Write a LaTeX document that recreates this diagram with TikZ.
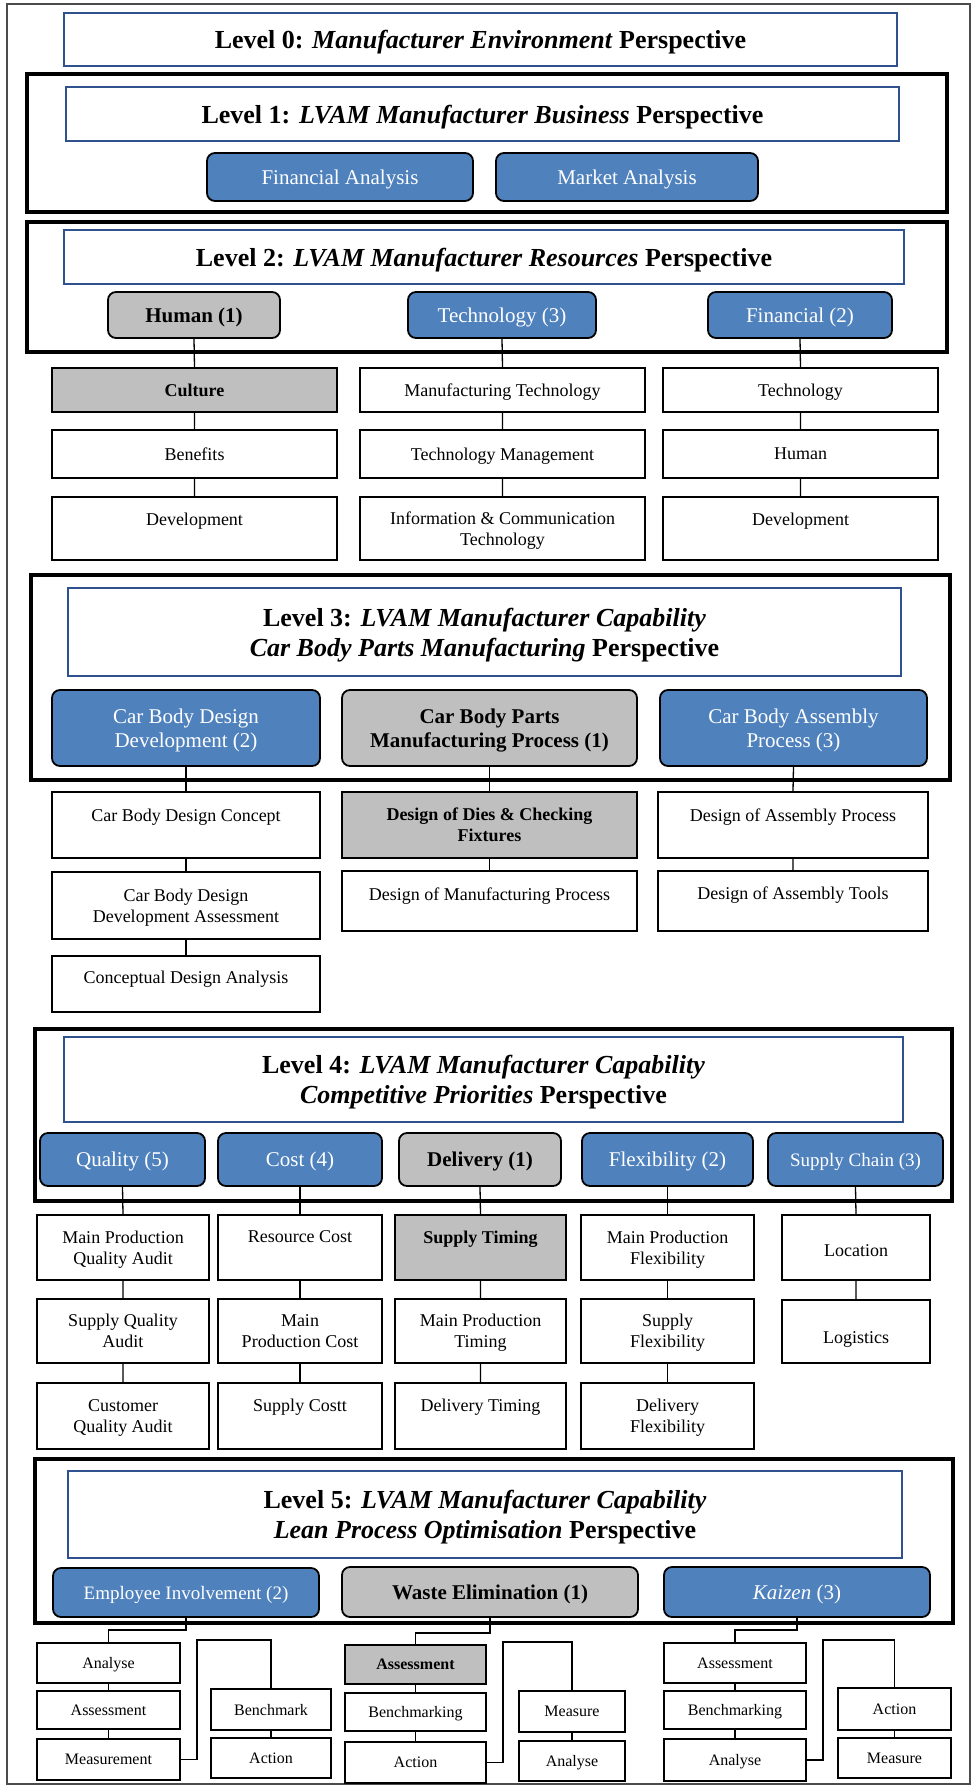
\documentclass[tikz,border=0pt]{standalone}
\usepackage{fontspec}
\setmainfont{Liberation Serif}
\definecolor{btnblue}{RGB}{79,129,189}
\definecolor{ttlblue}{RGB}{47,82,143}
\definecolor{gbox}{RGB}{191,191,191}
\newcommand\fsz[2]{\fontsize{#1}{#2}\selectfont}
\tikzset{
 frame/.style={draw=black, line width=3.4pt},
 ttl/.style={draw=ttlblue, line width=2.2pt, fill=white, align=center, text depth=0pt, font=\fsz{26}{30}\bfseries},
 btn/.style={draw=black, line width=1.8pt, rounded corners=8pt, fill=btnblue, text=white, align=center, text depth=0pt, font=\fsz{21}{24}},
 gbtn/.style={btn, fill=gbox, text=black, font=\fsz{21}{24}\bfseries},
 sub/.style={draw=black, line width=2pt, fill=white, align=center, text depth=0pt, font=\fsz{18}{21}},
 gsub/.style={sub, fill=gbox, font=\fsz{18}{21}\bfseries},
 sm/.style={sub, font=\fsz{16}{19}},
 gsm/.style={sm, fill=gbox, font=\fsz{16}{19}\bfseries},
 conn/.style={draw=black, line width=1.3pt},
}
% box from corner (x1,y1) to (x2,y2), y measured downward
\newcommand\bx[7]{\node[#1, inner sep=0pt, minimum width={#5-#3}, minimum height={#6-#4}] (#2) at ({(#3+#5)/2},{(#4+#6)/2}) {#7};}
% box with text placed #8 pt below its top edge
\newcommand\bxt[8]{\bx{#1}{#2}{#3}{#4}{#5}{#6}{}\node[#1, draw=none, fill=none, minimum width=0pt, minimum height=0pt, inner sep=0pt] (#2t) at ([yshift=-#8pt]#2.north) {#7};}
\begin{document}
\begin{tikzpicture}[x=1pt,y=-1pt]
\useasboundingbox (0,0) rectangle (974,1791);
\draw[line width=1.5pt, black!70] (7,4) rectangle (970,1784);

% Level 0
\bx{ttl}{l0}{64}{13}{897}{66}{Level 0: \textit{Manufacturer Environment} Perspective}

% Level 1
\bx{frame}{f1}{27}{74}{947}{212}{}
\bx{ttl}{l1}{66}{87}{899}{141}{Level 1: \textit{LVAM Manufacturer Business} Perspective}
\bx{btn}{fa}{207}{153}{473}{201}{Financial Analysis}
\bx{btn}{ma}{496}{153}{758}{201}{Market Analysis}

% Level 2
\bx{frame}{f2}{27}{222}{947}{352}{}
\bx{ttl}{l2}{64}{230}{904}{284}{Level 2: \textit{LVAM Manufacturer Resources} Perspective}
\bx{gbtn}{hu}{108}{292}{280}{338}{Human (1)}
\bx{btn}{te}{408}{292}{596}{338}{Technology (3)}
\bx{btn}{fi}{708}{292}{892}{338}{Financial (2)}
\bx{gsub}{cu}{52}{368}{337}{412}{Culture}
\bx{sub}{be}{52}{430}{337}{478}{Benefits}
\bxt{sub}{de1}{52}{497}{337}{560}{Development}{23}
\bx{sub}{mt}{360}{368}{645}{412}{Manufacturing Technology}
\bx{sub}{tm}{360}{430}{645}{478}{Technology Management}
\bx{sub}{ict}{360}{497}{645}{560}{Information \& Communication\\Technology}
\bx{sub}{tec}{663}{368}{938}{412}{Technology}
\bx{sub}{hum}{663}{430}{938}{478}{Human}
\bxt{sub}{de2}{663}{497}{938}{560}{Development}{23}
\draw[conn] (hu.south) -- (cu.north) (cu.south) -- (be.north) (be.south) -- (de1.north);
\draw[conn] (te.south) -- (mt.north) (mt.south) -- (tm.north) (tm.south) -- (ict.north);
\draw[conn] (fi.south) -- (tec.north) (tec.south) -- (hum.north) (hum.south) -- (de2.north);

% Level 3
\bx{frame}{f3}{31}{575}{950}{780}{}
\bx{ttl}{l3}{68}{588}{901}{676}{Level 3: \textit{LVAM Manufacturer Capability}\\\textit{Car Body Parts Manufacturing} Perspective}
\bx{btn}{cbd}{52}{690}{320}{766}{Car Body Design\\Development (2)}
\bx{gbtn}{cbp}{342}{690}{637}{766}{Car Body Parts\\Manufacturing Process (1)}
\bx{btn}{cba}{660}{690}{927}{766}{Car Body Assembly\\Process (3)}
\bxt{sub}{cdc}{52}{792}{320}{858}{Car Body Design Concept}{24}
\bx{sub}{cda}{52}{872}{320}{939}{Car Body Design\\Development Assessment}
\bxt{sub}{cdn}{52}{956}{320}{1012}{Conceptual Design Analysis}{22}
\bx{gsub}{ddc}{342}{792}{637}{858}{Design of Dies \& Checking\\Fixtures}
\bxt{sub}{dmp}{342}{871}{637}{931}{Design of Manufacturing Process}{24}
\bxt{sub}{dap}{658}{792}{928}{858}{Design of Assembly Process}{24}
\bxt{sub}{dat}{658}{871}{928}{931}{Design of Assembly Tools}{23}
\draw[conn] (cbd.south) -- (cdc.north) (cdc.south) -- (cda.north) (cda.south) -- (cdn.north);
\draw[conn] (cbp.south) -- (ddc.north) (ddc.south) -- (dmp.north);
\draw[conn] (cba.south) -- (dap.north) (dap.south) -- (dat.north);

% Level 4
\bx{frame}{f4}{35}{1029}{952}{1201}{}
\bx{ttl}{l4}{64}{1037}{903}{1122}{Level 4: \textit{LVAM Manufacturer Capability}\\\textit{Competitive Priorities} Perspective}
\bx{btn}{qu}{40}{1133}{205}{1186}{Quality (5)}
\bx{btn}{co}{218}{1133}{382}{1186}{Cost (4)}
\bx{gbtn}{dl}{399}{1133}{561}{1186}{Delivery (1)}
\bx{btn}{fl}{582}{1133}{753}{1186}{Flexibility (2)}
\bx{btn, font=\fsz{19}{22}}{sc}{768}{1133}{943}{1186}{Supply Chain (3)}
\bx{sub}{q1}{37}{1215}{209}{1280}{Main Production\\Quality Audit}
\bx{sub}{q2}{37}{1299}{209}{1363}{Supply Quality\\Audit}
\bx{sub}{q3}{37}{1383}{209}{1449}{Customer\\Quality Audit}
\bxt{sub}{c1}{218}{1215}{382}{1280}{Resource Cost}{23}
\bx{sub}{c2}{218}{1299}{382}{1363}{Main\\Production Cost}
\bxt{sub}{c3}{218}{1383}{382}{1449}{Supply Costt}{23}
\bxt{gsub}{d1}{395}{1215}{566}{1280}{Supply Timing}{23}
\bx{sub}{d2}{395}{1299}{566}{1363}{Main Production\\Timing}
\bxt{sub}{d3}{395}{1383}{566}{1449}{Delivery Timing}{23}
\bx{sub}{x1}{581}{1215}{754}{1280}{Main Production\\Flexibility}
\bx{sub}{x2}{581}{1299}{754}{1363}{Supply\\Flexibility}
\bx{sub}{x3}{581}{1383}{754}{1449}{Delivery\\Flexibility}
\bxt{sub}{s1}{782}{1215}{930}{1280}{Location}{37}
\bxt{sub}{s2}{782}{1300}{930}{1363}{Logistics}{39}
\draw[conn] (qu.south) -- (q1.north) (q1.south) -- (q2.north) (q2.south) -- (q3.north);
\draw[conn] (co.south) -- (c1.north) (c1.south) -- (c2.north) (c2.south) -- (c3.north);
\draw[conn] (dl.south) -- (d1.north) (d1.south) -- (d2.north) (d2.south) -- (d3.north);
\draw[conn] (fl.south) -- (x1.north) (x1.south) -- (x2.north) (x2.south) -- (x3.north);
\draw[conn] (sc.south) -- (s1.north) (s1.south) -- (s2.north);

% Level 5
\bx{frame}{f5}{35}{1459}{953}{1623}{}
\bx{ttl}{l5}{68}{1471}{902}{1558}{Level 5: \textit{LVAM Manufacturer Capability}\\\textit{Lean Process Optimisation} Perspective}
\bx{btn, font=\fsz{19}{22}}{ei}{53}{1568}{319}{1617}{Employee Involvement (2)}
\bx{gbtn}{we}{342}{1567}{638}{1617}{Waste Elimination (1)}
\bx{btn}{kz}{664}{1567}{930}{1617}{\textit{Kaizen} (3)}
% Employee Involvement
\bx{sm}{ea}{37}{1643}{180}{1683}{Analyse}
\bx{sm}{eb}{37}{1691}{180}{1729}{Assessment}
\bx{sm}{ec}{37}{1739}{180}{1780}{Measurement}
\bx{sm}{ed}{211}{1689}{331}{1730}{Benchmark}
\bx{sm}{ee}{211}{1738}{331}{1778}{Action}
% Waste Elimination
\bx{gsm}{wa}{345}{1645}{486}{1684}{Assessment}
\bx{sm}{wb}{345}{1693}{486}{1731}{Benchmarking}
\bx{sm}{wc}{345}{1742}{486}{1783}{Action}
\bx{sm}{wd}{519}{1691}{625}{1732}{Measure}
\bx{sm}{wf}{519}{1741}{625}{1781}{Analyse}
% Kaizen
\bx{sm}{ka}{664}{1643}{806}{1683}{Assessment}
\bx{sm}{kb}{664}{1691}{806}{1729}{Benchmarking}
\bx{sm}{kc}{664}{1739}{806}{1781}{Analyse}
\bx{sm}{kd}{838}{1688}{951}{1730}{Action}
\bx{sm}{ke}{838}{1738}{951}{1778}{Measure}

\draw[conn] (ei.south) -- ++(0,12) -| (ea.north);
\draw[conn] (ea.south) -- (eb.north) (eb.south) -- (ec.north);
\draw[conn] (ec.east) -- ++(16,0) |- ([yshift=48pt]ed.north) -- (ed.north);
\draw[conn] (ed.south) -- (ee.north);
\draw[conn] (we.south) -- ++(0,15) -| (wa.north);
\draw[conn] (wa.south) -- (wb.north) (wb.south) -- (wc.north);
\draw[conn] (wc.east) -- ++(16,0) |- ([yshift=48pt]wd.north) -- (wd.north);
\draw[conn] (wd.south) -- (wf.north);
\draw[conn] (kz.south) -- ++(0,12) -| (ka.north);
\draw[conn] (ka.south) -- (kb.north) (kb.south) -- (kc.north);
\draw[conn] (kc.east) -- ++(16,0) |- ([yshift=47pt]kd.north) -- (kd.north);
\draw[conn] (kd.south) -- (ke.north);
\end{tikzpicture}
\end{document}
